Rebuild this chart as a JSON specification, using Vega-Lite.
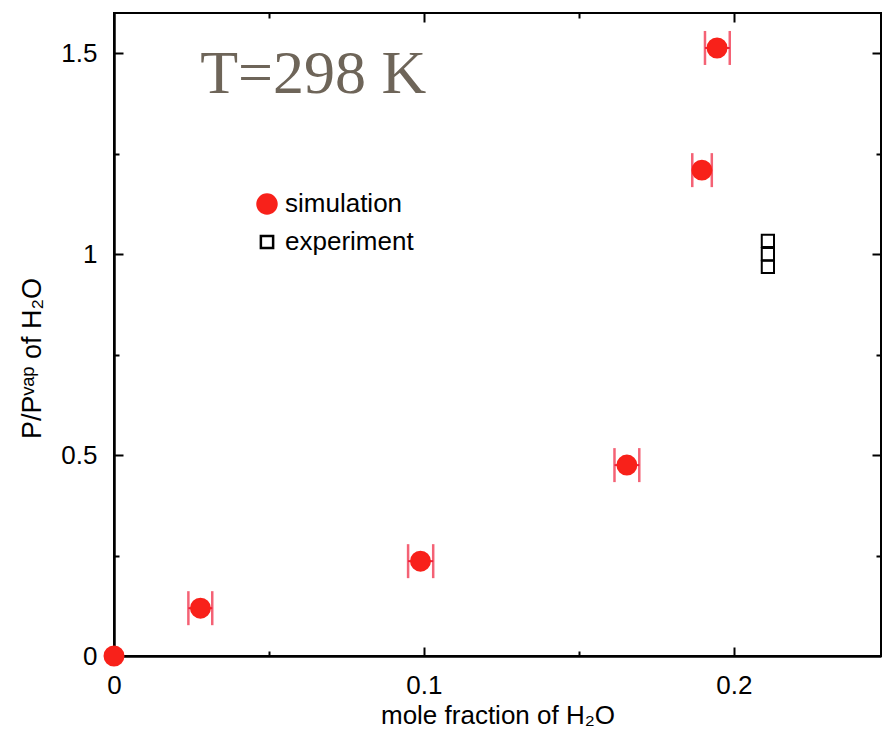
{
  "$schema": "https://vega.github.io/schema/vega-lite/v6.json",
  "width": 767,
  "height": 643,
  "autosize": {"type": "none"},
  "padding": {"left": 114, "top": 13, "right": 6, "bottom": 77},
  "background": "white",
  "config": {
    "view": {"stroke": "black", "strokeWidth": 2},
    "font": "Liberation Sans"
  },
  "data": {
    "values": [
      {"series": "simulation", "x": 0.0, "y": 0.0, "xlo": null, "xhi": null},
      {"series": "simulation", "x": 0.0279, "y": 0.119, "xlo": 0.0240, "xhi": 0.0317},
      {"series": "simulation", "x": 0.0989, "y": 0.236, "xlo": 0.0949, "xhi": 0.1030},
      {"series": "simulation", "x": 0.1655, "y": 0.475, "xlo": 0.1615, "xhi": 0.1695},
      {"series": "simulation", "x": 0.1897, "y": 1.209, "xlo": 0.1866, "xhi": 0.1929},
      {"series": "simulation", "x": 0.1946, "y": 1.513, "xlo": 0.1907, "xhi": 0.1987},
      {"series": "experiment", "x": 0.211, "y": 1.033, "xlo": null, "xhi": null},
      {"series": "experiment", "x": 0.211, "y": 1.0, "xlo": null, "xhi": null},
      {"series": "experiment", "x": 0.211, "y": 0.968, "xlo": null, "xhi": null}
    ]
  },
  "resolve": {"axis": {"x": "independent", "y": "independent"}},
  "layer": [
    {
      "transform": [{"filter": "datum.xlo != null"}],
      "mark": {"type": "rule", "color": "#f0203a", "strokeWidth": 2},
      "encoding": {
        "x": {"field": "xlo", "type": "quantitative", "axis": null, "scale": {"domain": [0, 0.2475], "nice": false}},
        "x2": {"field": "xhi"},
        "y": {"field": "y", "type": "quantitative", "axis": null, "scale": {"domain": [0, 1.6], "nice": false}}
      }
    },
    {
      "transform": [{"filter": "datum.xlo != null"}],
      "mark": {"type": "tick", "orient": "vertical", "color": "#f0203a", "size": 34, "thickness": 2.5},
      "encoding": {
        "x": {"field": "xlo", "type": "quantitative", "axis": null},
        "y": {"field": "y", "type": "quantitative", "axis": null}
      }
    },
    {
      "transform": [{"filter": "datum.xhi != null"}],
      "mark": {"type": "tick", "orient": "vertical", "color": "#f0203a", "size": 34, "thickness": 2.5},
      "encoding": {
        "x": {"field": "xhi", "type": "quantitative", "axis": null},
        "y": {"field": "y", "type": "quantitative", "axis": null}
      }
    },
    {
      "mark": {"type": "point", "opacity": 1, "strokeWidth": 2},
      "encoding": {
        "x": {
          "field": "x",
          "type": "quantitative",
          "axis": {
            "orient": "bottom",
            "values": [0, 0.05, 0.1, 0.15, 0.2],
            "format": "~g",
            "labelExpr": "indexof([0.05, 0.15], datum.value) >= 0 ? '' : datum.label",
            "labelFlush": false,
            "tickSize": {"condition": {"test": "indexof([0.05, 0.15], datum.value) >= 0", "value": -5}, "value": -9},
            "tickWidth": 2,
            "tickColor": "black",
            "domainColor": "black",
            "domainWidth": 2.5,
            "grid": false,
            "labelFont": "Liberation Sans",
            "labelFontSize": 26,
            "labelColor": "black",
            "labelPadding": 25,
            "title": "mole fraction of H₂O",
            "titleFont": "Liberation Sans",
            "titleFontSize": 26,
            "titleFontWeight": "normal",
            "titleColor": "black",
            "titlePadding": 4
          }
        },
        "y": {
          "field": "y",
          "type": "quantitative",
          "axis": {
            "orient": "left",
            "values": [0, 0.25, 0.5, 0.75, 1, 1.25, 1.5],
            "format": "~g",
            "labelExpr": "indexof([0.25, 0.75, 1.25], datum.value) >= 0 ? '' : datum.label",
            "labelFlush": false,
            "tickSize": {"condition": {"test": "indexof([0.25, 0.75, 1.25], datum.value) >= 0", "value": -5}, "value": -9},
            "tickWidth": 2,
            "tickColor": "black",
            "domainColor": "black",
            "domainWidth": 2.5,
            "grid": false,
            "labelFont": "Liberation Sans",
            "labelFontSize": 26,
            "labelColor": "black",
            "labelPadding": 26,
            "title": "P/Pᵛᵃᵖ of H₂O",
            "titleFont": "Liberation Sans",
            "titleFontSize": 27,
            "titleFontWeight": "normal",
            "titleColor": "black",
            "titlePadding": 14,
            "titleY": 345
          }
        },
        "shape": {
          "field": "series",
          "type": "nominal",
          "scale": {"domain": ["simulation", "experiment"], "range": ["circle", "square"]},
          "legend": {
            "orient": "none",
            "legendX": 140,
            "legendY": 178,
            "title": null,
            "padding": 0,
            "labelFont": "Liberation Sans",
            "labelFontSize": 26,
            "labelColor": "black",
            "labelOffset": 5,
            "rowPadding": 10,
            "symbolStrokeWidth": 2.5
          }
        },
        "fill": {
          "field": "series",
          "type": "nominal",
          "scale": {"domain": ["simulation", "experiment"], "range": ["#f8211a", "transparent"]}
        },
        "stroke": {
          "field": "series",
          "type": "nominal",
          "scale": {"domain": ["simulation", "experiment"], "range": ["#f8211a", "black"]}
        },
        "size": {
          "field": "series",
          "type": "nominal",
          "scale": {"domain": ["simulation", "experiment"], "range": [360, 150]}
        }
      }
    },
    {
      "mark": {"type": "point", "opacity": 0},
      "encoding": {
        "x": {
          "field": "x",
          "type": "quantitative",
          "axis": {
            "orient": "top",
            "values": [0.05, 0.1, 0.15, 0.2],
            "labels": false,
            "domain": false,
            "grid": false,
            "title": null,
            "tickSize": {"condition": {"test": "indexof([0.05, 0.15], datum.value) >= 0", "value": -5}, "value": -9},
            "tickWidth": 2,
            "tickColor": "black"
          }
        },
        "y": {
          "field": "y",
          "type": "quantitative",
          "axis": {
            "orient": "right",
            "values": [0.25, 0.5, 0.75, 1, 1.25, 1.5],
            "labels": false,
            "domain": false,
            "grid": false,
            "title": null,
            "tickSize": {"condition": {"test": "indexof([0.25, 0.75, 1.25], datum.value) >= 0", "value": -5}, "value": -9},
            "tickWidth": 2,
            "tickColor": "black"
          }
        }
      }
    },
    {
      "data": {"values": [{"label": "T=298 K", "x": 0.0278, "y": 1.401}]},
      "mark": {
        "type": "text",
        "align": "left",
        "baseline": "alphabetic",
        "font": "Liberation Serif",
        "fontSize": 62,
        "color": "#6e6559"
      },
      "encoding": {
        "x": {"field": "x", "type": "quantitative", "axis": null},
        "y": {"field": "y", "type": "quantitative", "axis": null},
        "text": {"field": "label", "type": "nominal"}
      }
    }
  ]
}
